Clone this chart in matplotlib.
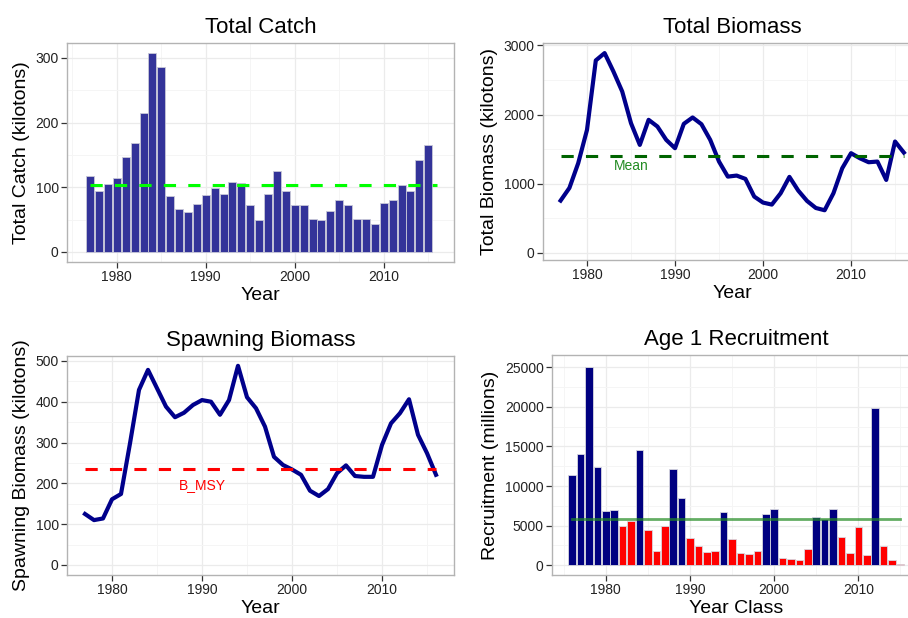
import numpy as np
import matplotlib
matplotlib.use('Agg')
import matplotlib.pyplot as plt
from matplotlib.ticker import MultipleLocator

plt.rcParams['font.family'] = ['Liberation Sans', 'DejaVu Sans']

# ============================================================
# Data
# ============================================================
catch_years = list(range(1977, 2016))
catch = [117, 94, 105, 114, 147, 168, 215, 307, 286, 86,
         67, 62, 74, 88, 99, 90, 108, 106, 72, 50,
         89, 125, 95, 73, 72, 51, 50, 63, 80, 72,
         51, 51, 43, 76, 81, 103, 95, 142, 166]
catch_mean = 104

bio_years = list(range(1977, 2017))
total_bio = [754, 937, 1295, 1778, 2783, 2889, 2623, 2333, 1874, 1560,
             1923, 1826, 1633, 1512, 1865, 1957, 1860, 1633, 1319, 1101,
             1116, 1068, 812, 725, 696, 860, 1097, 899, 749, 647,
             614, 860, 1222, 1440, 1367, 1309, 1319, 1053, 1609, 1449]
total_bio_mean = 1406

ssb = [125, 110, 114, 161, 174, 298, 429, 478, 433, 388,
       362, 373, 392, 404, 400, 368, 404, 488, 411, 384,
       339, 265, 245, 234, 221, 182, 169, 186, 225, 244,
       218, 216, 216, 294, 347, 372, 406, 319, 274, 221]
b_msy = 234

rec_years = list(range(1976, 2016))
recruits = [11400, 14050, 25000, 12450, 6900, 7000, 5000, 5650, 14550, 4450,
            1800, 5000, 12150, 8550, 3500, 2400, 1650, 1800, 6700, 3300,
            1500, 1400, 1750, 6450, 7150, 900, 850, 650, 2050, 6100,
            5900, 7050, 3550, 1500, 4850, 1300, 19900, 2400, 700, 200]
rec_mean = 5800

# ============================================================
# Layout helpers (pixel boxes from the 908x618 reference)
# ============================================================
W, H = 908, 618
fig = plt.figure(figsize=(W / 100, H / 100), dpi=100)
fig.patch.set_facecolor('white')


def add_panel(left, top, right, bottom):
    return fig.add_axes([left / W, 1 - bottom / H, (right - left) / W, (bottom - top) / H])


def style(ax, title, xlabel, ylabel, xlim, ylim, ymaj):
    ax.set_xlim(*xlim)
    ax.set_ylim(*ylim)
    ax.xaxis.set_major_locator(MultipleLocator(10))
    ax.xaxis.set_minor_locator(MultipleLocator(5))
    ax.yaxis.set_major_locator(MultipleLocator(ymaj))
    ax.yaxis.set_minor_locator(MultipleLocator(ymaj / 2))
    ax.grid(which='major', color='#EBEBEB', linewidth=0.9)
    ax.grid(which='minor', color='#F5F5F5', linewidth=0.7)
    ax.set_axisbelow(True)
    for s in ax.spines.values():
        s.set_color('#B3B3B3')
        s.set_linewidth(1.0)
    ax.tick_params(which='major', length=4, width=0.9, color='#333333',
                   labelsize=10, labelcolor='#222222', pad=2)
    ax.tick_params(which='minor', length=0)
    ax.set_title(title, fontsize=16, pad=7)
    ax.set_xlabel(xlabel, fontsize=14, labelpad=2)
    ax.set_ylabel(ylabel, fontsize=14, labelpad=4)


# ============================================================
# (a) Total Catch
# ============================================================
ax = add_panel(67, 43, 454, 262)
ax.bar(catch_years, catch, width=0.9, color='#333399', edgecolor='#C8C8D8', linewidth=0.6)
ax.plot([1977, 2016], [catch_mean, catch_mean], color='#00FF00', linewidth=2.2, dashes=(4, 4))
style(ax, 'Total Catch', 'Year', 'Total Catch (kilotons)', (1974.4, 2017.9), (-15.5, 323), 100)

# ============================================================
# (b) Total Biomass
# ============================================================
ax = add_panel(543, 43, 921, 260)
ax.plot(bio_years, total_bio, color='#00008B', linewidth=3, solid_joinstyle='round')
ax.plot([1977, 2016], [total_bio_mean, total_bio_mean], color='#006400', linewidth=2.2, dashes=(4, 4))
ax.text(1985, 1256, 'Mean', color='#228B22', fontsize=10, ha='center', va='center')
style(ax, 'Total Biomass', 'Year', 'Total Biomass (kilotons)', (1975.0, 2017.95), (-106, 3035), 1000)

# ============================================================
# (c) Spawning Biomass
# ============================================================
ax = add_panel(67, 356, 454, 575)
ax.plot(bio_years, ssb, color='#00008B', linewidth=3, solid_joinstyle='round')
ax.plot([1977, 2016], [b_msy, b_msy], color='#FF0000', linewidth=2.2, dashes=(4, 4))
ax.text(1990, 196, 'B_MSY', color='#FF0000', fontsize=10, ha='center', va='center')
style(ax, 'Spawning Biomass', 'Year', 'Spawning Biomass (kilotons)', (1975.0, 2018.0), (-24.5, 512), 100)

# ============================================================
# (d) Age 1 Recruitment
# ============================================================
ax = add_panel(552, 355, 921, 575)
rec_colors = ['#000080' if r > rec_mean else '#FF0000' for r in recruits]
ax.bar(rec_years, recruits, width=0.9, color=rec_colors, edgecolor='#D8D8E0', linewidth=0.6)
ax.plot([rec_years[0], rec_years[-1]], [rec_mean, rec_mean], color='#228B22', alpha=0.7, linewidth=2)
style(ax, 'Age 1 Recruitment', 'Year Class', 'Recruitment (millions)', (1973.6, 2017.45), (-1225, 26550), 5000)

plt.savefig('out.png', dpi=100)
plt.close()
